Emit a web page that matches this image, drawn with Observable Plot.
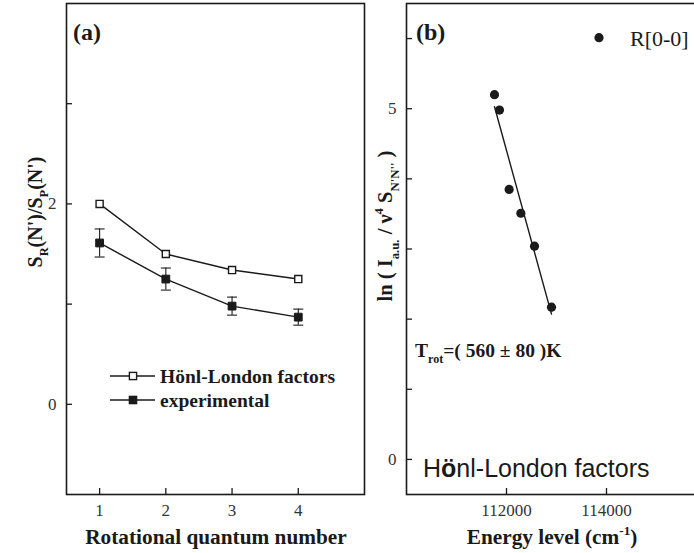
<!DOCTYPE html>
<html><head><meta charset="utf-8">
<script src="https://cdn.jsdelivr.net/npm/d3@7"></script>
<script src="https://cdn.jsdelivr.net/npm/@observablehq/plot@0.6"></script>
<style>
html,body{margin:0;padding:0;background:#fff;overflow:hidden}
#wrap{position:relative;width:694px;height:553px;overflow:hidden;background:#fff}
#wrap svg{position:absolute;top:0}
</style></head><body><div id="wrap"></div>
<script>
// ---- Panel (a) data ----
const quantumNumbers = [1, 2, 3, 4];
const honlLondon = [2.00, 1.50, 1.34, 1.25];
const experimental = [1.61, 1.25, 0.98, 0.87];
const experimentalError = [0.14, 0.11, 0.09, 0.08];
const aXTicks = [1, 2, 3, 4];
const aYTicks = [0, 1, 2, 3];
const aYLabels = [0, 2];
const aSeriesNames = ["Hönl-London factors", "experimental"];

// ---- Panel (b) data ----
const energyLevels = [111760, 111860, 112053, 112287, 112560, 112900];
const lnIntensity = [5.20, 4.98, 3.85, 3.51, 3.04, 2.17];
const bXTicks = [112000, 114000];
const bYTicks = [0, 1, 2, 3, 4, 5, 6];
const bYLabels = [0, 5];

const SERIF = "'Liberation Serif', 'Times New Roman', serif";
const SANS = "'Liberation Sans', Arial, sans-serif";
const INK = "#1a1a1a";

const capSymbol = {draw(ctx, size) { const w = Math.sqrt(size / Math.PI); ctx.moveTo(-w, 0); ctx.lineTo(w, 0); }};

const hl = quantumNumbers.map((n, i) => ({n, v: honlLondon[i]}));
const ex = quantumNumbers.map((n, i) => ({n, v: experimental[i], lo: experimental[i] - experimentalError[i], hi: experimental[i] + experimentalError[i]}));
const pts = energyLevels.map((e, i) => ({e, v: lnIntensity[i]}));

const baseStyle = {fontFamily: SERIF, fontSize: "17px", color: INK, background: "transparent", overflow: "visible"};
const tickText = {fontFamily: SERIF, fontSize: 17, label: null, fill: "#333"};

const plotA = Plot.plot({
  width: 380, height: 553, marginLeft: 66, marginRight: 16, marginTop: 3, marginBottom: 59,
  style: baseStyle,
  x: {domain: [0.5, 5]},
  y: {domain: [-0.9, 4.0]},
  marks: [
    Plot.axisX({ticks: aXTicks, tickSize: -6, tickFormat: () => "", label: null, strokeWidth: 1.3}),
    Plot.axisX({ticks: aXTicks, tickSize: 0, tickPadding: 9, tickFormat: d => String(d), ...tickText}),
    Plot.axisY({ticks: aYTicks, tickSize: -6, tickFormat: () => "", label: null, strokeWidth: 1.3}),
    Plot.axisY({ticks: aYLabels, tickSize: 0, tickPadding: 10, tickFormat: d => String(d), ...tickText}),
    Plot.frame({stroke: INK, strokeWidth: 1.6}),
    Plot.ruleX(ex, {x: "n", y1: "lo", y2: "hi", stroke: INK, strokeWidth: 1.1}),
    Plot.dot(ex, {x: "n", y: "lo", symbol: capSymbol, r: 5, stroke: INK, strokeWidth: 1.1}),
    Plot.dot(ex, {x: "n", y: "hi", symbol: capSymbol, r: 5, stroke: INK, strokeWidth: 1.1}),
    Plot.line(hl, {x: "n", y: "v", stroke: INK, strokeWidth: 1.4}),
    Plot.line(ex, {x: "n", y: "v", stroke: INK, strokeWidth: 1.4}),
    Plot.dot(hl, {x: "n", y: "v", symbol: "square", r: 4, fill: "white", stroke: INK, strokeWidth: 1.4}),
    Plot.dot(ex, {x: "n", y: "v", symbol: "square", r: 4.4, fill: INK, stroke: INK, strokeWidth: 1})
  ]
});
plotA.style.left = "0px";

const plotB = Plot.plot({
  width: 340, height: 553, marginLeft: 26, marginRight: 14, marginTop: 3, marginBottom: 59,
  style: baseStyle,
  x: {domain: [110000, 116000]},
  y: {domain: [-0.5, 6.5]},
  marks: [
    Plot.axisX({ticks: bXTicks, tickSize: -6, tickFormat: () => "", label: null, strokeWidth: 1.3}),
    Plot.axisX({ticks: bXTicks, tickSize: 0, tickPadding: 9, tickFormat: d => String(d), ...tickText}),
    Plot.axisY({ticks: bYTicks, tickSize: -6, tickFormat: () => "", label: null, strokeWidth: 1.3}),
    Plot.axisY({ticks: bYLabels, tickSize: 0, tickPadding: 10, tickFormat: d => String(d), ...tickText}),
    Plot.frame({stroke: INK, strokeWidth: 1.6}),
    Plot.linearRegressionY(pts, {x: "e", y: "v", ci: 0, stroke: INK, strokeWidth: 1.4}),
    Plot.dot(pts, {x: "e", y: "v", r: 4.6, fill: INK, stroke: "none"})
  ]
});
plotB.style.left = "380px";

const wrap = document.getElementById("wrap");
wrap.appendChild(plotA);
wrap.appendChild(plotB);

// make sure tick labels use the serif face
for (const p of [plotA, plotB]) {
  d3.select(p).selectAll("g[aria-label$='tick label'] text")
    .style("font-family", SERIF).style("font-size", "17px").style("font-variant", "normal");
}

function rich(sel, x, y, parts, {size, weight = "normal", anchor = "start", family = SERIF, rotate = 0, fill = INK}) {
  const t = sel.append("text")
    .attr("transform", `translate(${x},${y})` + (rotate ? ` rotate(${rotate})` : ""))
    .attr("text-anchor", anchor).attr("fill", fill)
    .style("font-family", family).style("font-size", size + "px").style("font-weight", weight);
  let shift = 0;
  for (const p of parts) {
    const sp = t.append("tspan").text(p.t);
    const target = p.sub ? 0.32 * size : p.sup ? -0.42 * size : 0;
    sp.attr("dy", target - shift); shift = target;
    if (p.sub || p.sup) sp.style("font-size", (size * 0.62) + "px");
    if (p.weight) sp.style("font-weight", p.weight);
  }
  return t;
}

// ---- Panel (a) annotations ----
const sa = d3.select(plotA);
rich(sa, 73, 40, [{t: "(a)"}], {size: 24, weight: "bold"});
rich(sa, 42, 212, [{t: "S"}, {t: "R", sub: true}, {t: "(N')/S"}, {t: "P", sub: true}, {t: "(N')"}], {size: 20, weight: "bold", anchor: "middle", rotate: -90});
rich(sa, 216, 544, [{t: "Rotational quantum number"}], {size: 21.3, weight: "bold", anchor: "middle"});
const legA = [{y: 376, fill: "white"}, {y: 400, fill: INK}];
legA.forEach((d, i) => {
  sa.append("line").attr("x1", 110).attr("x2", 155).attr("y1", d.y).attr("y2", d.y).attr("stroke", INK).attr("stroke-width", 1.4);
  sa.append("rect").attr("x", 133 - 3.6).attr("y", d.y - 3.6).attr("width", 7.2).attr("height", 7.2).attr("fill", d.fill).attr("stroke", INK).attr("stroke-width", 1.4);
  rich(sa, 160, d.y + 6.5, [{t: aSeriesNames[i]}], {size: 19.5, weight: "bold"});
});

// ---- Panel (b) annotations ----
const sb = d3.select(plotB);
rich(sb, 36, 40, [{t: "(b)"}], {size: 24, weight: "bold"});
sb.append("circle").attr("cx", 219).attr("cy", 37.7).attr("r", 4.6).attr("fill", INK);
rich(sb, 250, 46, [{t: "R[0-0]"}], {size: 22});
rich(sb, 12, 226, [{t: "ln ( I"}, {t: "a.u.", sub: true}, {t: " / ν"}, {t: "4", sup: true}, {t: " S"}, {t: "N'N''", sub: true}, {t: " )"}], {size: 20.5, weight: "bold", anchor: "middle", rotate: -90});
rich(sb, 35, 357, [{t: "T"}, {t: "rot", sub: true}, {t: "=( 560 ± 80 )K"}], {size: 19.5, weight: "bold"});
rich(sb, 43, 477, [{t: "H"}, {t: "ö", weight: "bold"}, {t: "nl-London factors"}], {size: 25, family: SANS});
rich(sb, 172, 544, [{t: "Energy level (cm"}, {t: "-1", sup: true}, {t: ")"}], {size: 21.3, weight: "bold", anchor: "middle"});
</script></body></html>
